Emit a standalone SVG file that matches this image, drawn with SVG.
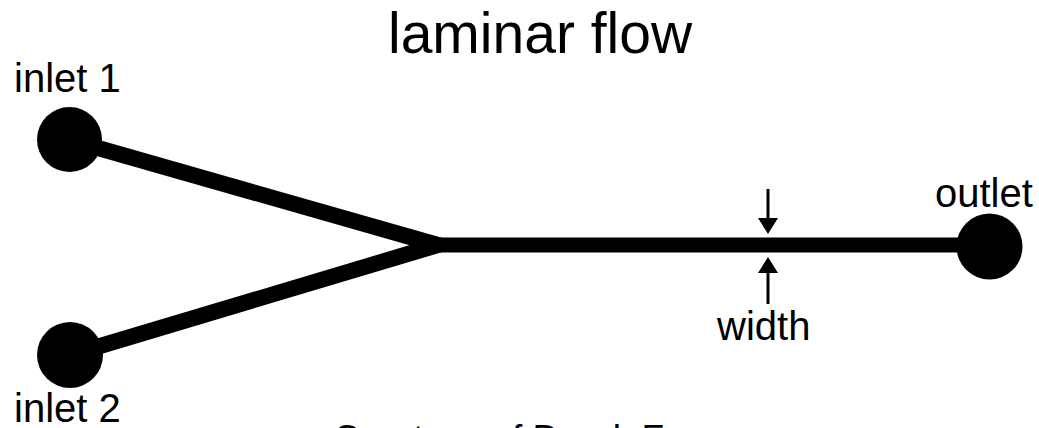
<svg xmlns="http://www.w3.org/2000/svg" width="1039" height="428" viewBox="0 0 1039 428">
  <style>
    .lbl { font-family: "Liberation Sans", Arial, Helvetica, sans-serif; font-size: 40px; fill: #000; }
    .title { font-family: "Liberation Sans", Arial, Helvetica, sans-serif; font-size: 57px; fill: #000; }
    .port { fill: #000; }
    .chan { fill: none; stroke: #000; stroke-linejoin: miter; }
    .dim { stroke: #000; stroke-width: 3; fill: none; }
    .head { fill: #000; }
  </style>
  <rect width="1039" height="428" fill="#fff"/>
  <text class="title" x="388" y="53">laminar flow</text>
  <g id="connectors">
    <path class="chan" d="M70,140 L438,245 L70,355" stroke-width="16"/>
    <line class="chan" x1="430" y1="245" x2="990" y2="245" stroke-width="15"/>
  </g>
  <g id="inlet1">
    <circle class="port" cx="69.5" cy="139.5" r="32.5"/>
    <text class="lbl" x="14" y="92">inlet 1</text>
  </g>
  <g id="inlet2">
    <circle class="port" cx="70" cy="355" r="33"/>
    <text class="lbl" x="14" y="422">inlet 2</text>
  </g>
  <g id="outlet">
    <circle class="port" cx="989.5" cy="246.5" r="33"/>
    <text class="lbl" x="935" y="207">outlet</text>
  </g>
  <g id="width">
    <line class="dim" x1="768" y1="189" x2="768" y2="222"/>
    <polygon class="head" points="758,218 778,218 768,234"/>
    <line class="dim" x1="768" y1="304" x2="768" y2="270"/>
    <polygon class="head" points="758,273 778,273 768,257"/>
    <text class="lbl" x="717" y="340">width</text>
  </g>
  <text class="lbl" x="333" y="451" style="font-size:37px">Courtesy of Derek Fong</text>
</svg>
